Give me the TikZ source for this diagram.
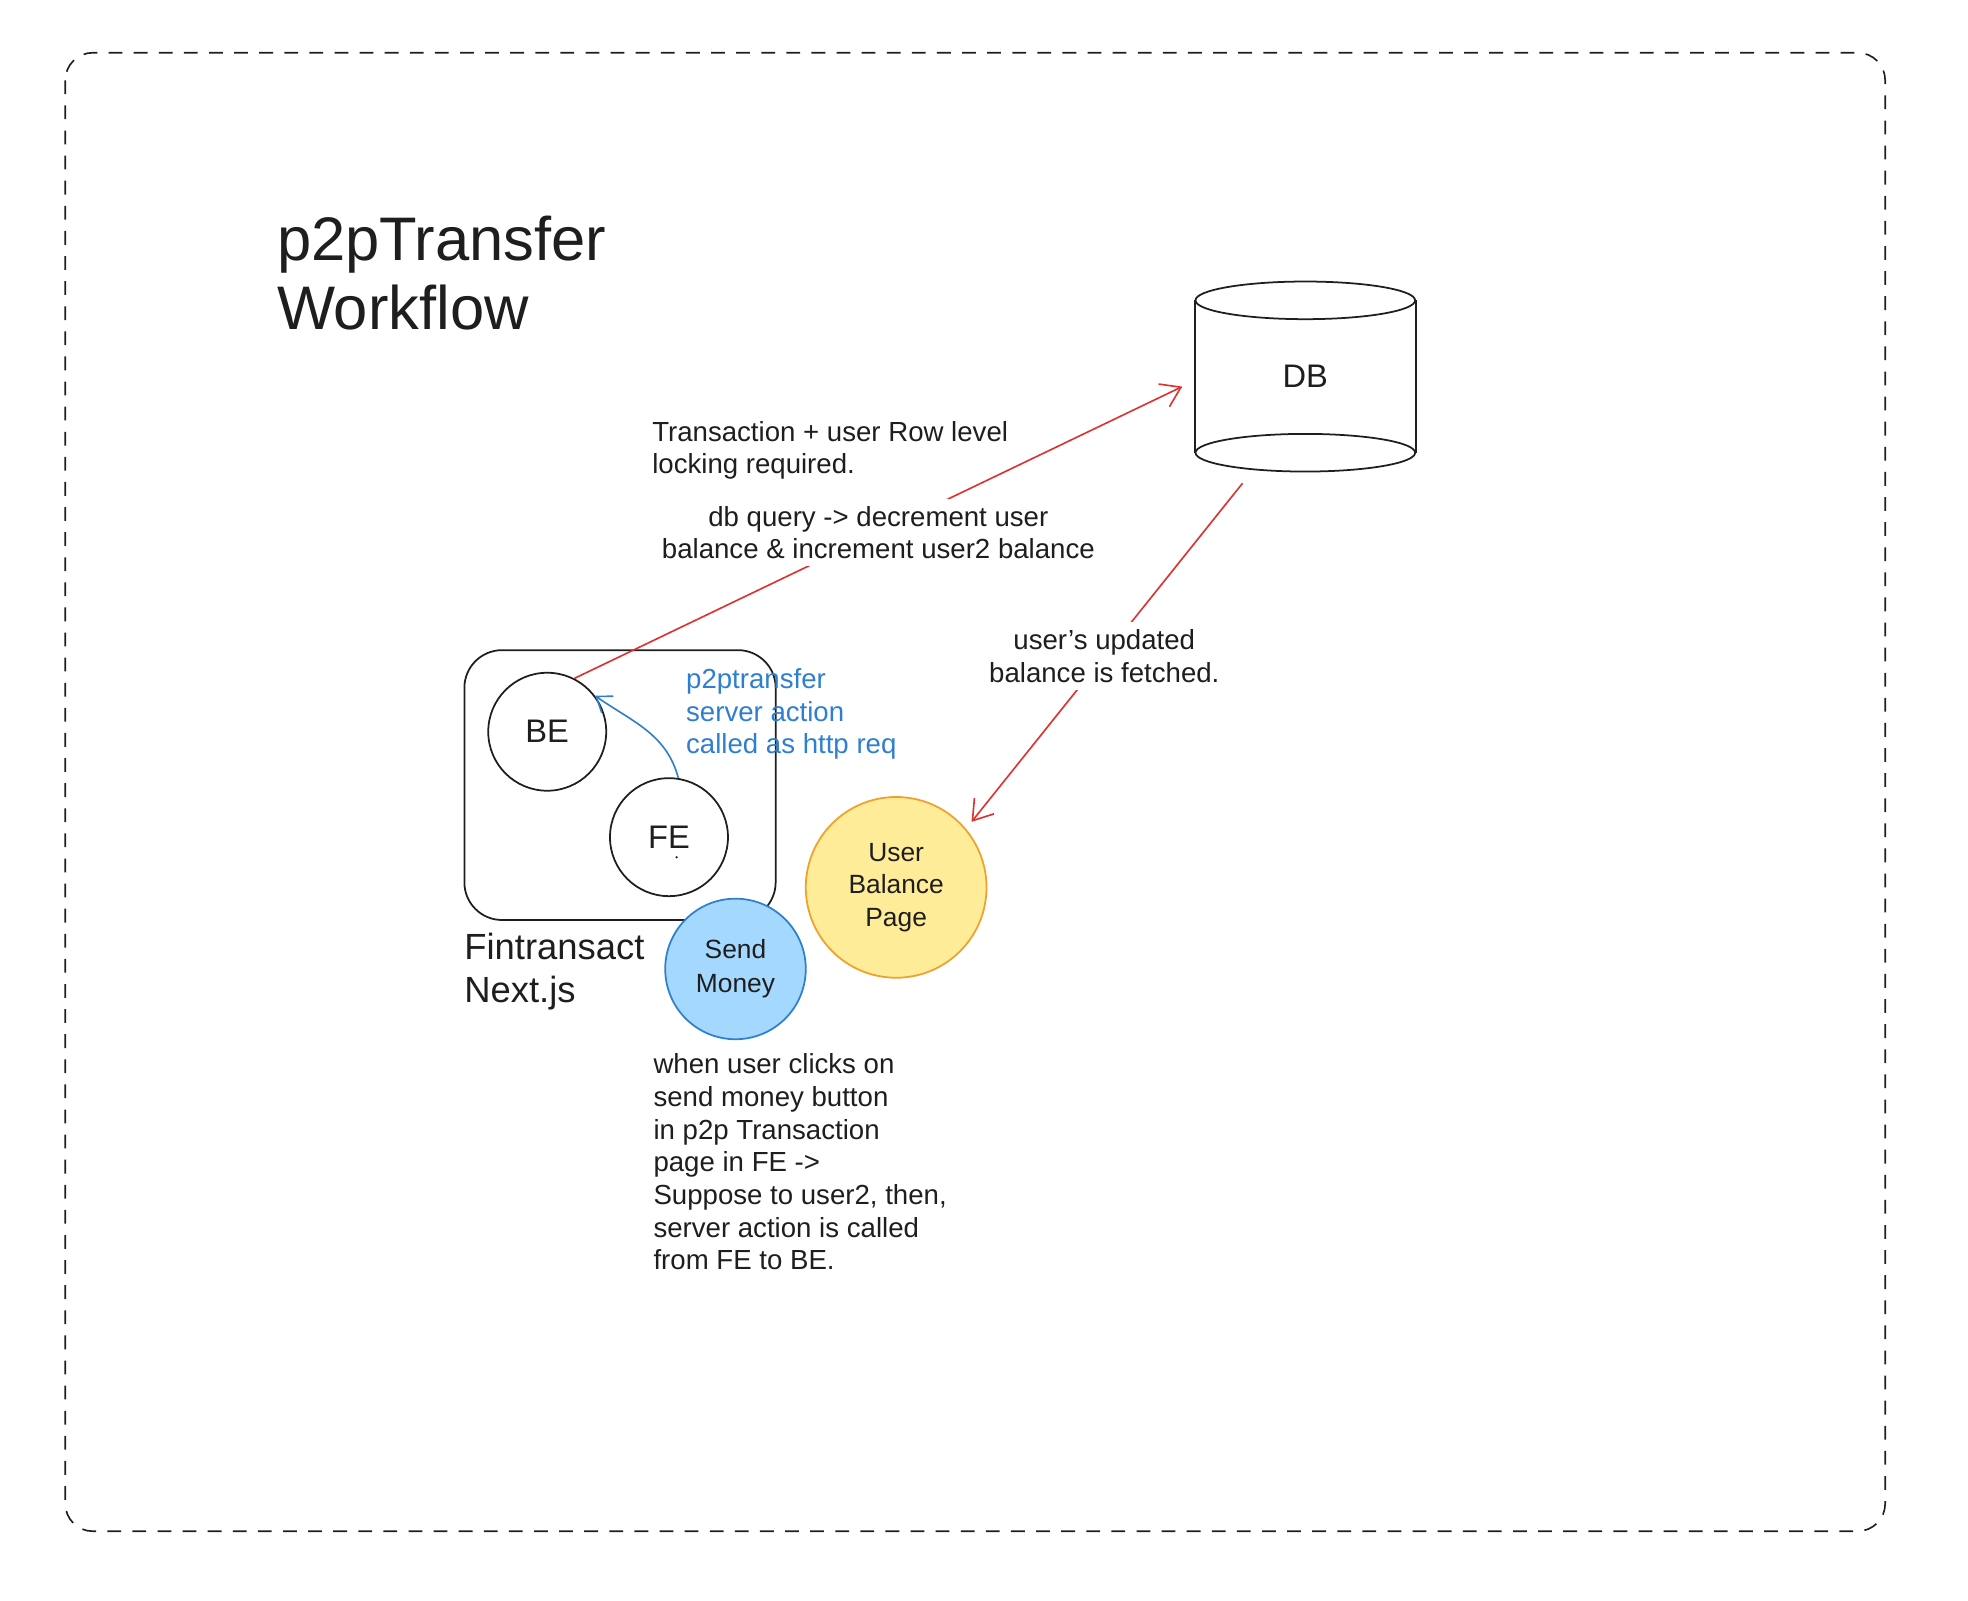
\documentclass[tikz,border=0pt]{standalone}
\usepackage{fontspec}
\setmainfont{Liberation Sans}
\usetikzlibrary{arrows.meta,positioning}

\definecolor{ink}{HTML}{1E1E1E}
\definecolor{redline}{HTML}{E03131}
\definecolor{blueline}{HTML}{2F7FD0}
\definecolor{bluefill}{HTML}{A5D8FF}
\definecolor{yellowfill}{HTML}{FFEC99}
\definecolor{orangeline}{HTML}{F0A02C}

\begin{document}
\begin{tikzpicture}[x=1pt, y=-1pt, line width=1.4pt, color=ink,
	every node/.style={font=\fontsize{22}{26}\selectfont},
	block/.style={circle, draw, minimum size=94pt, font=\fontsize{26}{30}\selectfont},
	note/.style={align=left, anchor=north west, inner sep=0pt},
	cut/.style={fill=white, align=center, inner sep=6pt},
	redarrow/.style={draw=redline, line width=1.3pt, -{Straight Barb[length=15pt, width=20pt]}},
	bluearrow/.style={draw=blueline, line width=1.3pt, -{Straight Barb[length=11pt, width=16pt]}}]
	\useasboundingbox (0,0) rectangle (1568,1275);

	% frame
	\draw[line width=1.3pt, dash pattern=on 11pt off 9pt, rounded corners=22pt] (52,42) rectangle (1502,1220);

	\node[note, font=\fontsize{49}{55}\selectfont] (title) at (220,171) {p2pTransfer\\Workflow};

	% database
	\node[minimum width=175pt, minimum height=150pt, font=\fontsize{26}{30}\selectfont] (db) at (1040,300) {DB};
	\draw ([yshift=-15pt]db.north) ellipse [x radius=87.5pt, y radius=15pt];
	\draw ([yshift=15pt]db.south) ellipse [x radius=87.5pt, y radius=15pt];
	\draw ([yshift=-15pt]db.north west) -- ([yshift=15pt]db.south west);
	\draw ([yshift=-15pt]db.north east) -- ([yshift=15pt]db.south east);
	\coordinate (dbin) at (942,308);
	\coordinate (dbout) at (990,385);

	% next.js app
	\node[draw, rounded corners=30pt, minimum width=248pt, minimum height=215pt] (app) at (494,625.5) {};
	\node[note, font=\fontsize{29}{34}\selectfont] (applabel)[below=9pt of app.south west, anchor=north west] {Fintransact\\Next.js};
	\node[block] (be) at (436,583) {BE};
	\node[block] (fe) at (533,667) {FE};
	\fill (539,683) circle (1pt);

	\path (fe.81) edge[bluearrow, out=105, in=-35] (be.37);
	\node[note, text=blueline] (http) at (546,532) {p2ptransfer\\server action\\called as http req};

	\node[circle, draw=blueline, fill=bluefill, minimum size=112pt, align=center, font=\fontsize{21}{27}\selectfont] (send) at (586,772) {Send\\Money};
	\node[circle, draw=orangeline, fill=yellowfill, minimum size=144pt, align=center, font=\fontsize{21}{26}\selectfont] (ubp) at (714,707) {User\\Balance\\Page};

	\node[note] (lock) at (519,335) {Transaction + user Row level\\locking required.};

	\path
	(be.63) edge[redarrow] node[cut] {db query -> decrement user\\balance \& increment user2 balance} (dbin)
	(dbout) edge[redarrow, shorten >=7pt] node[cut] {user's updated\\balance is fetched.} (ubp.40)
	;

	\node[note] (steps) at (520,839) {when user clicks on\\send money button\\in p2p Transaction\\page in FE ->\\Suppose to user2, then,\\server action is called\\from FE to BE.};
\end{tikzpicture}
\end{document}
